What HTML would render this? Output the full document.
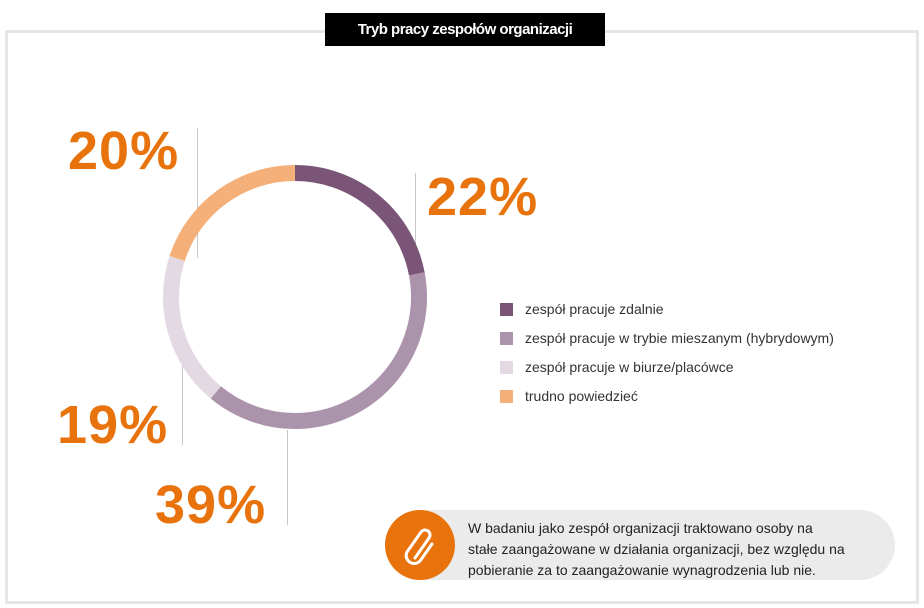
<!DOCTYPE html>
<html><head><meta charset="utf-8"><style>
body{margin:0;width:924px;height:608px;background:#fff;position:relative;overflow:hidden;font-family:"Liberation Sans",sans-serif}
.frame{position:absolute;left:5px;top:30px;width:908px;height:568px;border:3px solid #e6e6e6}
.title{position:absolute;left:325px;top:13px;width:280px;height:33px;background:#000;color:#fff;font-weight:bold;font-size:15px;line-height:33px;text-align:center;letter-spacing:-0.5px}
.pct{position:absolute;color:#e8730c;font-weight:bold;font-size:54px;letter-spacing:1px;line-height:1}
.vl{position:absolute;width:1px;background:#c8c8c8}
.lg{position:absolute;left:500px;font-size:14px;color:#333}
.lg i{position:absolute;left:0;top:2px;width:13px;height:13px}
.lg span{position:absolute;left:25px;top:0;white-space:nowrap}
.note{position:absolute;left:385px;top:510px;width:510px;height:70px;background:#ebebeb;border-radius:35px}
.circ{position:absolute;left:385px;top:510px;width:70px;height:70px;border-radius:50%;background:#e8730c}
.nt{position:absolute;left:468px;top:518px;font-size:14px;line-height:21px;color:#222}
</style></head><body>
<div class="frame"></div>
<div class="title">Tryb pracy zespołów organizacji</div>
<div class="vl" style="left:197px;top:128px;height:130px"></div>
<div class="vl" style="left:415px;top:173px;height:97px"></div>
<div class="vl" style="left:182px;top:365px;height:80px"></div>
<div class="vl" style="left:287px;top:430px;height:95px"></div>
<svg style="position:absolute;left:0;top:0" width="924" height="608">
<g transform="translate(295,297) rotate(-90)" fill="none" stroke-width="16">
<circle r="124" stroke="#7a5577" stroke-dasharray="171.4 1000" />
<circle r="124" stroke="#ab93ab" stroke-dasharray="0 171.4 303.9 1000" />
<circle r="124" stroke="#e3d9e3" stroke-dasharray="0 475.3 148 1000" />
<circle r="124" stroke="#f5b07a" stroke-dasharray="0 623.3 155.8 1000" />
</g>
</svg>
<div class="pct" style="left:68px;top:124px">20%</div>
<div class="pct" style="left:427px;top:170px">22%</div>
<div class="pct" style="left:57px;top:398px">19%</div>
<div class="pct" style="left:155px;top:478px">39%</div>
<div class="lg" style="top:301px"><i style="background:#7a5577"></i><span>zespół pracuje zdalnie</span></div>
<div class="lg" style="top:330px"><i style="background:#ab93ab"></i><span>zespół pracuje w trybie mieszanym (hybrydowym)</span></div>
<div class="lg" style="top:359px"><i style="background:#e3d9e3"></i><span>zespół pracuje w biurze/placówce</span></div>
<div class="lg" style="top:388px"><i style="background:#f5b07a"></i><span>trudno powiedzieć</span></div>
<div class="note"></div>
<div class="circ"><svg width="70" height="70"><path d="M30 48 L44 28 A5 5 0 0 0 36 22 L22 42 A8 8 0 0 0 35 51 L47 34" fill="none" stroke="#fff" stroke-width="3" stroke-linecap="round"/></svg></div>
<div class="nt">W badaniu jako zespół organizacji traktowano osoby na<br>stałe zaangażowane w działania organizacji, bez względu na<br>pobieranie za to zaangażowanie wynagrodzenia lub nie.</div>
</body></html>
